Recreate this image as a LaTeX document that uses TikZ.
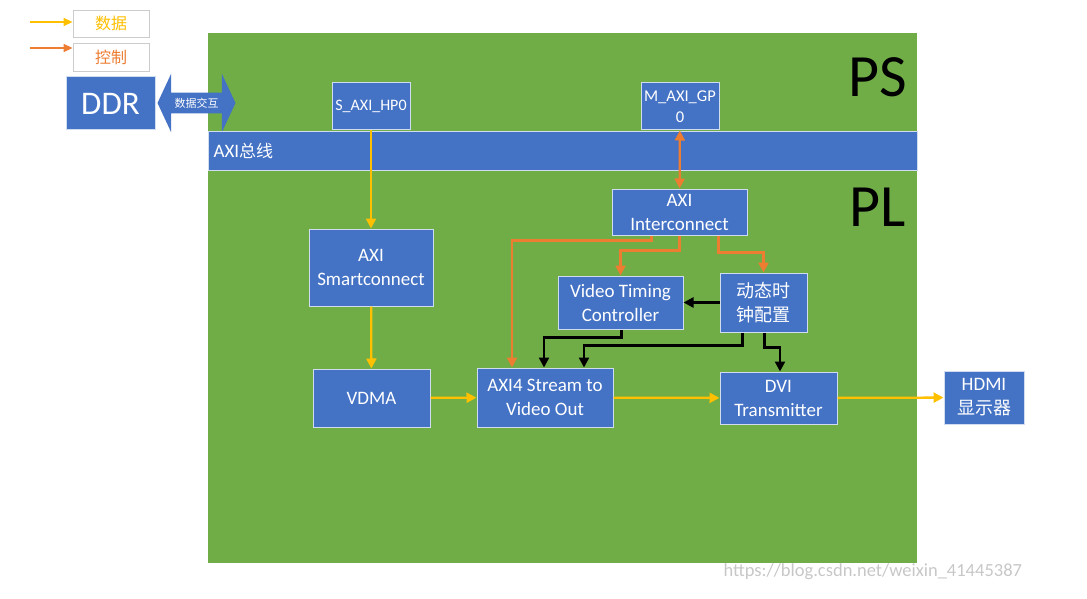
\documentclass[tikz,border=0pt]{standalone}
\usepackage{fontspec}
\setmainfont{Carlito}
\newfontfamily\cjk{Noto Sans CJK SC}
\usetikzlibrary{arrows.meta,calc,shapes.arrows}

\definecolor{boxblue}{HTML}{4472C4}
\definecolor{plgreen}{HTML}{70AD47}
\definecolor{datayel}{HTML}{FFC000}
\definecolor{ctrlora}{HTML}{ED7D31}

\tikzset{
  block/.style={draw=white!75!boxblue, line width=1pt, fill=boxblue, text=white,
    align=center, inner sep=1pt, font=\fontsize{19}{24}\selectfont},
  legbox/.style={draw=black!20, fill=white, line width=0.8pt,
    minimum width=76pt, minimum height=27pt, font=\cjk\fontsize{16}{18}\selectfont},
  data/.style={->, datayel, line width=2.3pt},
  ctrl/.style={->, ctrlora, line width=2.3pt},
  sig/.style={->, black, line width=2.3pt},
}

\begin{document}
\begin{tikzpicture}[x=1pt, y=-1pt, >={Triangle[length=10pt,width=10pt]}]
    \useasboundingbox (0,0) rectangle (1087,599);

    % PS / PL area
    \fill[plgreen] (208,33) rectangle (917,563);
    \node[font=\fontsize{60}{62}\selectfont] (ps) at (878,77) {PS};
    \node[font=\fontsize{60}{62}\selectfont] (pl) at (878,207) {PL};

    % legend
    \node[legbox, text=datayel] (leg1) at (111,23.5) {数据};
    \node[legbox, text=ctrlora, minimum height=28pt] (leg2) at (111,57) {控制};
    \coordinate (l1) at (30,22);
    \coordinate (l2) at (30,48);
    \draw[data, line width=1.4pt, -{Triangle[length=9pt,width=8pt]}] (l1) -- (l1 -| leg1.west);
    \draw[ctrl, line width=1.4pt, -{Triangle[length=9pt,width=8pt]}] (l2) -- (l2 -| leg2.west);

    % DDR and exchange arrow
    \node[block, minimum width=89pt, minimum height=53pt,
      font=\fontsize{33}{35}\selectfont] (ddr) at (110.5,103.5) {DDR};
    \node[double arrow, fill=boxblue, text=white, double arrow tip angle=130,
      double arrow head extend=19pt, minimum height=78pt, inner xsep=0pt, inner ysep=5pt,
      font=\cjk\fontsize{11}{12}\selectfont] (xchg) at (196.5,103) {数据交互};

    % AXI bus
    \draw[fill=boxblue, draw=white!75!boxblue, line width=1pt] (208,132) rectangle (917,170);
    \node[text=white, anchor=west, font=\fontsize{19}{21}\selectfont] (bus) at (210,151) {AXI{\cjk\fontsize{17}{21}\selectfont 总线}};

    % blocks
    \node[block, minimum width=78pt, minimum height=47pt,
      font=\fontsize{16}{19}\selectfont] (hp0) at (371,106.5) {S\_AXI\_HP0};
    \node[block, minimum width=78pt, minimum height=47pt,
      font=\fontsize{16.5}{21}\selectfont] (gp0) at (680,106.5) {M\_AXI\_GP\\0};
    \node[block, minimum width=135pt, minimum height=46pt] (ic) at (679.5,212) {AXI\\Interconnect};
    \node[block, minimum width=124pt, minimum height=77pt] (sc) at (371,267.5) {AXI\\Smartconnect};
    \node[block, minimum width=125pt, minimum height=53pt] (vtc) at (620.5,302.5) {Video Timing\\Controller};
    \node[block, minimum width=87pt, minimum height=59pt,
      font=\cjk\fontsize{18}{24}\selectfont] (clk) at (763.5,302.5) {动态时\\钟配置};
    \node[block, minimum width=117pt, minimum height=58pt] (vdma) at (371.5,398) {VDMA};
    \node[block, minimum width=136pt, minimum height=59pt] (axis) at (545,397.5) {AXI4 Stream to\\Video Out};
    \node[block, minimum width=117pt, minimum height=52pt] (dvi) at (778.5,398) {DVI\\Transmitter};
    \node[block, minimum width=80pt, minimum height=53pt] (hdmi) at (984,397.5) {HDMI\\{\cjk\fontsize{18}{24}\selectfont 显示器}};

    % data path
    \draw[data] (hp0) -- (sc);
    \draw[data] (sc) -- (vdma);
    \draw[data] (vdma) -- (axis);
    \draw[data] (axis) -- (dvi);
    \draw[data] (dvi) -- (hdmi);

    % control path
    \draw[ctrl, <->] (gp0) -- (ic);
    \draw[ctrl] ($(ic.south)+(-28,0)$) -- ++(0,5) -| ($(axis.north)+(-33,0)$);
    \draw[ctrl] (ic.south) -- ++(0,15) -| (vtc.north);
    \draw[ctrl] ($(ic.south)+(39,0)$) -- ++(0,17) -| (clk.north);

    % timing / clock signals
    \draw[sig] (clk.west) -- (vtc.east);
    \draw[sig] ($(vtc.south)+(1,0)$) -- ++(0,8) -| ($(axis.north)+(-1,0)$);
    \draw[sig] ($(clk.south)+(-21,0)$) -- ++(0,13) -| ($(axis.north)+(39,0)$);
    \draw[sig] ($(clk.south)+(1,0)$) -- ++(0,15) -| ($(dvi.north)+(1.5,0)$);

    % watermark
    \node[text=black!22, anchor=west, font=\fontsize{18.5}{20}\selectfont] (wm) at (720,572) {https://blog.csdn.net/weixin\_41445387};
\end{tikzpicture}
\end{document}
